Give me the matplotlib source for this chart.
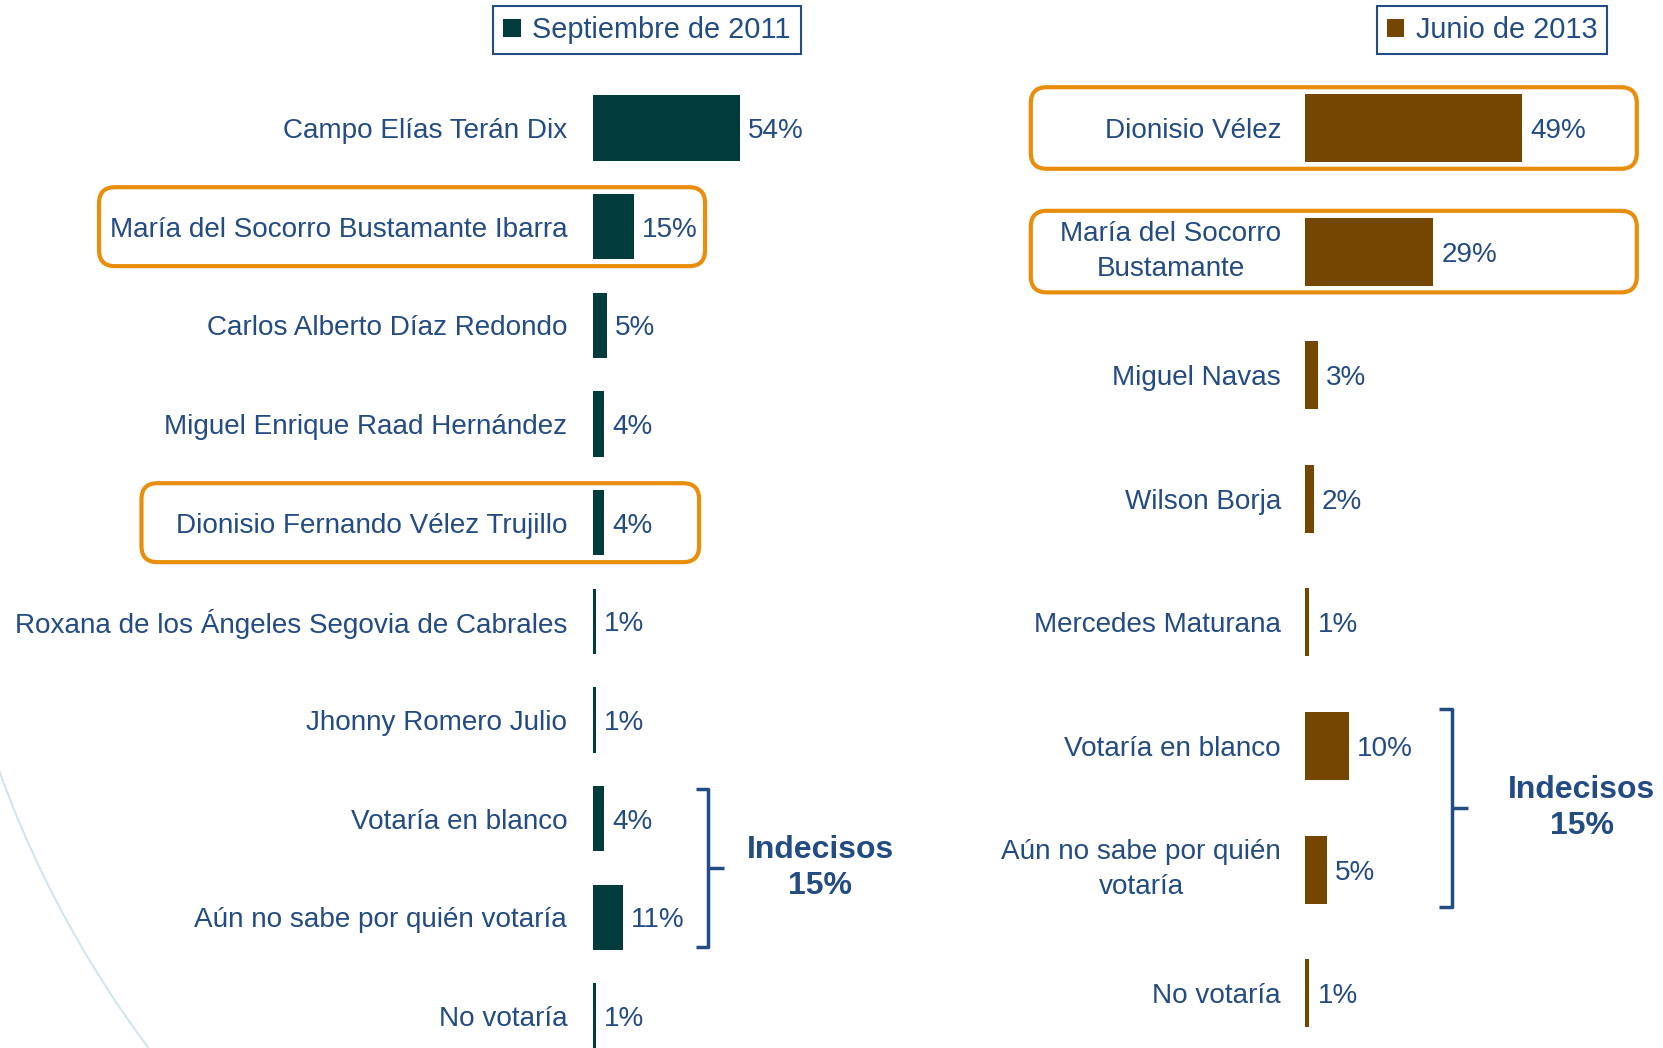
"""
Intención de voto: Septiembre de 2011 vs Junio de 2013.

Two horizontal bar panels side by side, highlight boxes on the
repeated candidates and a bracket grouping the undecided answers.
"""
import matplotlib
matplotlib.use("Agg")
import matplotlib.pyplot as plt
from matplotlib.patches import Arc, FancyBboxPatch, Patch

plt.rcParams["font.family"] = ["Liberation Sans", "DejaVu Sans"]

# --- data -------------------------------------------------------------
labels_2011 = [
    "Campo Elías Terán Dix",
    "María del Socorro Bustamante Ibarra",
    "Carlos Alberto Díaz Redondo",
    "Miguel Enrique Raad Hernández",
    "Dionisio Fernando Vélez Trujillo",
    "Roxana de los Ángeles Segovia de Cabrales",
    "Jhonny Romero Julio",
    "Votaría en blanco",
    "Aún no sabe por quién votaría",
    "No votaría",
]
values_2011 = [54, 15, 5, 4, 4, 1, 1, 4, 11, 1]
highlight_2011 = [1, 4]
undecided_2011 = [7, 8]

labels_2013 = [
    "Dionisio Vélez",
    "María del Socorro\nBustamante",
    "Miguel Navas",
    "Wilson Borja",
    "Mercedes Maturana",
    "Votaría en blanco",
    "Aún no sabe por quién\nvotaría",
    "No votaría",
]
values_2013 = [49, 29, 3, 2, 1, 10, 5, 1]
highlight_2013 = [0, 1]
undecided_2013 = [5, 6]

legend_2011 = "Septiembre de 2011"
legend_2013 = "Junio de 2013"
undecided_text = "Indecisos\n15%"

# --- style ------------------------------------------------------------
W, H = 1663, 1048
TEXT = "#234B84"
TEAL = "#023B3B"
BROWN = "#754600"
ORANGE = "#E88E0C"
ARC = "#D2E5EF"
FS = 20.1

fig = plt.figure(figsize=(W / 100, H / 100), dpi=100)

# pixel layer for decorations (y down)
bg = fig.add_axes([0, 0, 1, 1])
bg.set_xlim(0, W)
bg.set_ylim(H, 0)
bg.axis("off")
bg.add_patch(Arc((1010, 405), 2150, 2150, theta1=130, theta2=175,
                 color=ARC, lw=1.5))


def panel(x0, px_per_unit, y0, row_px):
    """Full-figure axes whose data units are % on x and row index on y."""
    ax = fig.add_axes([0, 0, 1, 1])
    ax.set_xlim(-x0 / px_per_unit, (W - x0) / px_per_unit)
    ax.set_ylim((H - y0) / row_px, -y0 / row_px)
    ax.axis("off")
    ax.patch.set_alpha(0)
    return ax


def to_px(ax, x, y):
    return bg.transData.inverted().transform(ax.transData.transform((x, y)))


def draw_panel(ax, labels, values, color, bar_h, label_gap):
    ys = range(len(labels))
    ax.barh(ys, values, height=bar_h, color=color)
    for y, lab, v in zip(ys, labels, values):
        multi = "\n" in lab
        ax.text(-label_gap, y, lab, ha="right",
                va="center" if multi else "center_baseline", fontsize=FS,
                color=TEXT, multialignment="center", linespacing=1.43)
        ax.annotate(f"{v}%", (v, y), xytext=(8, 0), textcoords="offset pixels",
                    ha="left", va="center_baseline", fontsize=FS, color=TEXT)


def highlight(ax, x0, x1, y, half):
    (px0, py0), (px1, py1) = to_px(ax, x0, y - half), to_px(ax, x1, y + half)
    bg.add_patch(FancyBboxPatch((px0, py0), px1 - px0, py1 - py0,
                                boxstyle="round,pad=0,rounding_size=16",
                                fill=False, ec=ORANGE, lw=3))


def bracket(ax, rows, x, tick, mid, text_x, half):
    top, bot = rows[0] - half, rows[-1] + half
    yc = (rows[0] + rows[-1]) / 2
    kw = dict(color=TEXT, lw=2.5, solid_capstyle="butt", clip_on=False)
    ax.plot([x - tick, x, x, x - tick], [top, top, bot, bot], **kw)
    ax.plot([x, x + mid], [yc, yc], **kw)
    ax.text(text_x, yc, undecided_text, ha="center", va="center",
            fontsize=23, fontweight="bold", color=TEXT, linespacing=1.25)


# --- left panel: Septiembre de 2011 -----------------------------------
axl = panel(593, 2.72, 128, 98.67)
draw_panel(axl, labels_2011, values_2011, TEAL, 0.66, 9.5)
bracket(axl, undecided_2011, 42.3, 4.4, 5.9, 83.5, 0.3)

# --- right panel: Junio de 2013 ---------------------------------------
axr = panel(1305, 4.43, 128, 123.6)
draw_panel(axr, labels_2013, values_2013, BROWN, 0.55, 5.4)
bracket(axr, undecided_2013, 33.2, 2.9, 3.6, 62.5, 0.3)

# highlight boxes around the candidates present in both polls
highlight(axl, -181.6, 41.2, highlight_2011[0], 0.4)
highlight(axl, -166.0, 39.0, highlight_2011[1], 0.4)
for i in highlight_2013:
    highlight(axr, -61.9, 74.9, i, 0.33)

# legends
for ax, color, text, cx in [(axl, TEAL, legend_2011, 647),
                            (axr, BROWN, legend_2013, 1492)]:
    leg = ax.legend(handles=[Patch(facecolor=color, label=text)],
                    loc="center", bbox_to_anchor=(cx / W, 1 - 30 / H),
                    bbox_transform=fig.transFigure, fontsize=20.8,
                    frameon=True, fancybox=False, framealpha=1,
                    edgecolor=TEXT, handlelength=0.6, handleheight=0.6,
                    handletextpad=0.4, borderpad=0.35, borderaxespad=0)
    leg.get_frame().set_linewidth(1.5)
    for t in leg.get_texts():
        t.set_color(TEXT)

fig.savefig("out.png", dpi=100)
